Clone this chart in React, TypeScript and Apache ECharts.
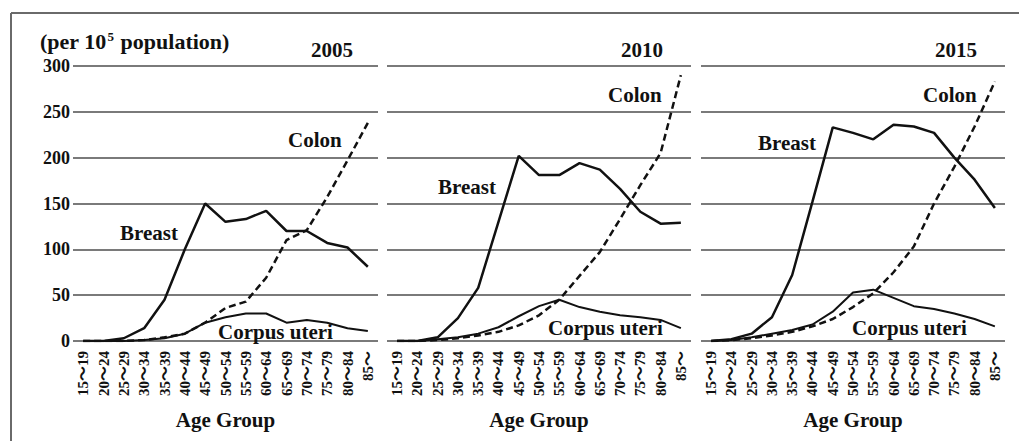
import React, { useEffect, useRef } from "react";
import * as echarts from "echarts";

const ageGroups = ["15～19", "20～24", "25～29", "30～34", "35～39", "40～44", "45～49", "50～54", "55～59", "60～64", "65～69", "70～74", "75～79", "80～84", "85～"];
const years = ["2005", "2010", "2015"];

const breast2005 = [0, 0, 3, 14, 45, 100, 150, 130, 133, 142, 120, 120, 107, 102, 81];
const colon2005 = [0, 0, 0, 1, 4, 8, 20, 36, 43, 69, 110, 121, 157, 197, 238];
const corpus2005 = [0, 0, 0, 1, 3, 8, 20, 26, 30, 30, 20, 23, 20, 14, 11];

const breast2010 = [0, 0, 4, 25, 58, 130, 202, 181, 181, 194, 187, 166, 141, 128, 129];
const colon2010 = [0, 0, 1, 3, 6, 10, 17, 28, 45, 71, 97, 133, 170, 205, 290];
const corpus2010 = [0, 0, 2, 4, 8, 15, 27, 38, 45, 37, 32, 28, 26, 23, 14];

const breast2015 = [0, 2, 8, 26, 72, 152, 233, 227, 220, 236, 234, 227, 200, 176, 145];
const colon2015 = [0, 1, 3, 6, 10, 16, 24, 37, 52, 75, 103, 150, 190, 234, 283];
const corpus2015 = [0, 1, 4, 8, 12, 18, 32, 53, 56, 47, 38, 35, 30, 24, 16];

const breastSets = [breast2005, breast2010, breast2015];
const colonSets = [colon2005, colon2010, colon2015];
const corpusSets = [corpus2005, corpus2010, corpus2015];

const FONT = '"Liberation Serif", "Times New Roman", "Noto Sans CJK JP", serif';
const INK = "#111";

export default function App() {
  const ref = useRef<HTMLDivElement>(null);

  useEffect(() => {
    if (!ref.current) return;
    const chart = echarts.init(ref.current, null, { renderer: "svg" });

    const lefts = [73, 387, 701];
    const widths = [305, 304, 304];
    const top = 66;
    const height = 275;

    const grids = lefts.map((l, i) => ({ left: l, top, width: widths[i], height }));

    const xAxes = lefts.map((_, i) => ({
      type: "category",
      gridIndex: i,
      data: ageGroups,
      boundaryGap: true,
      axisLine: { show: false },
      axisTick: { show: false },
      axisLabel: {
        interval: 0,
        rotate: 90,
        margin: 10,
        color: INK,
        fontFamily: FONT,
        fontWeight: "bold",
        fontSize: 15,
      },
      name: "Age Group",
      nameLocation: "middle",
      nameGap: 68,
      nameTextStyle: { color: INK, fontFamily: FONT, fontWeight: "bold", fontSize: 21 },
    }));

    const yAxes = lefts.map((_, i) => ({
      type: "value",
      gridIndex: i,
      min: 0,
      max: 300,
      interval: 50,
      axisLine: { show: false },
      axisTick: { show: false },
      axisLabel: {
        show: i === 0,
        margin: 3,
        color: INK,
        fontFamily: FONT,
        fontWeight: "bold",
        fontSize: 18,
      },
      splitLine: { show: true, lineStyle: { color: "#7a7a7a", width: 2 } },
    }));

    const series: any[] = [];
    for (let i = 0; i < 3; i++) {
      series.push({
        type: "line",
        name: "Breast " + years[i],
        xAxisIndex: i,
        yAxisIndex: i,
        data: breastSets[i],
        showSymbol: false,
        lineStyle: { color: INK, width: 2.5 },
        z: 3,
      });
      series.push({
        type: "line",
        name: "Colon " + years[i],
        xAxisIndex: i,
        yAxisIndex: i,
        data: colonSets[i],
        showSymbol: false,
        lineStyle: { color: INK, width: 2.5, type: [7, 4] },
        z: 3,
      });
      series.push({
        type: "line",
        name: "Corpus uteri " + years[i],
        xAxisIndex: i,
        yAxisIndex: i,
        data: corpusSets[i],
        showSymbol: false,
        lineStyle: { color: INK, width: 2 },
        z: 3,
      });
    }

    const txt = (text: string, x: number, y: number, align = "left", size = 21) => ({
      type: "text",
      x,
      y,
      z: 10,
      style: {
        text,
        fill: INK,
        fontFamily: FONT,
        fontWeight: "bold",
        fontSize: size,
        align,
        verticalAlign: "middle",
      },
    });

    const graphic: any[] = [
      { type: "line", shape: { x1: 11, y1: 13, x2: 1019, y2: 13 }, style: { stroke: "#6a6a6a", lineWidth: 2 } },
      { type: "line", shape: { x1: 11, y1: 13, x2: 11, y2: 441 }, style: { stroke: "#6a6a6a", lineWidth: 2 } },
      {
        type: "text",
        x: 40,
        y: 41,
        z: 10,
        style: {
          text: "{a|(per 10}{s|5}{a| population)}",
          fill: INK,
          fontFamily: FONT,
          fontWeight: "bold",
          fontSize: 22,
          align: "left",
          verticalAlign: "middle",
          rich: {
            a: { fontFamily: FONT, fontWeight: "bold", fontSize: 22, fill: INK, verticalAlign: "bottom" },
            s: { fontFamily: FONT, fontWeight: "bold", fontSize: 13, fill: INK, verticalAlign: "top", padding: [0, 1, 0, 1] },
          },
        },
      },
      txt("2005", 353, 50, "right"),
      txt("2010", 663, 50, "right"),
      txt("2015", 977, 50, "right"),
      txt("Colon", 288, 140),
      txt("Breast", 120, 233),
      txt("Corpus uteri", 218, 332),
      txt("Colon", 608, 95),
      txt("Breast", 438, 187),
      txt("Corpus uteri", 548, 328),
      txt("Colon", 923, 95),
      txt("Breast", 758, 143),
      txt("Corpus uteri", 852, 328),
    ];

    chart.setOption({
      animation: false,
      backgroundColor: "#fff",
      grid: grids,
      xAxis: xAxes,
      yAxis: yAxes,
      series,
      graphic,
    });

    return () => chart.dispose();
  }, []);

  return (
    <div
      ref={ref}
      style={{ position: "fixed", left: 0, top: 0, width: 1019, height: 441 }}
    />
  );
}
